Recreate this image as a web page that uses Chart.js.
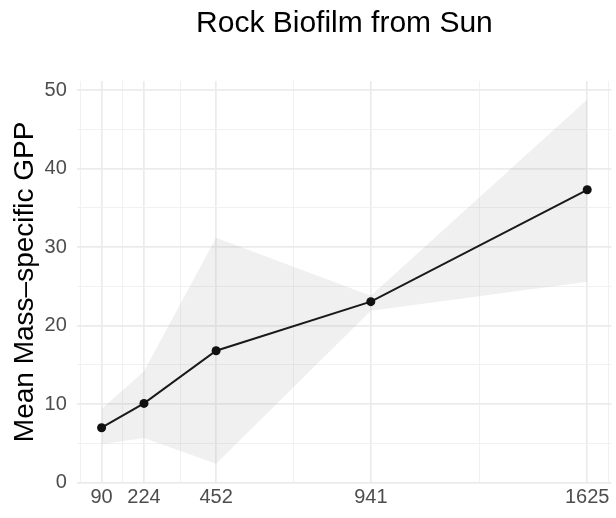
<!DOCTYPE html>
<html>
<head>
<meta charset="utf-8">
<script src="https://cdn.jsdelivr.net/npm/chart.js@4"></script>
<style>
  html, body { margin: 0; padding: 0; background: #fff; }
  #wrap { width: 616px; height: 518px; }
</style>
</head>
<body>
<div id="wrap"><canvas id="chart" width="616" height="518"></canvas></div>
<script>
// ---- data ----
const elevations = [90, 224, 452, 941, 1625];
const meanGpp    = [7.0, 10.1, 16.8, 23.05, 37.3];
const lowerCi    = [4.9, 5.7, 2.4, 21.9, 25.6];
const upperCi    = [9.4, 14.2, 31.2, 23.8, 48.8];

const xBreaks      = [90, 224, 452, 941, 1625];
const xMinorBreaks = [23, 157, 338, 696.5, 1283, 1693];
const yBreaks      = [0, 10, 20, 30, 40, 50];
const yMinorBreaks = [5, 15, 25, 35, 45];

const TITLE = "Rock Biofilm from Sun";
const Y_TITLE = "Mean Mass\u2013specific GPP";

// ---- helpers ----
const pts = (ys) => elevations.map((x, i) => ({ x, y: ys[i] }));
const FONT = "'Liberation Sans', Arial, Helvetica, sans-serif";

const gridOpts = (majors) => ({
  color: (c) => majors.includes(c.tick && c.tick.value) ? "#ebebeb" : "#efefef",
  lineWidth: (c) => majors.includes(c.tick && c.tick.value) ? 1.7 : 0.9,
  drawTicks: false
});

// keep title centred on the panel like ggplot
const panelTitle = {
  id: "panelTitle",
  afterLayout(chart) {
    const tb = chart.titleBlock;
    if (!tb) return;
    tb.left = chart.chartArea.left;
    tb.right = chart.chartArea.right;
  }
};

new Chart(document.getElementById("chart"), {
  type: "line",
  data: {
    datasets: [
      {
        label: "mean",
        data: pts(meanGpp),
        borderColor: "#1a1a1a",
        borderWidth: 2,
        pointRadius: 4.5,
        pointBackgroundColor: "#111",
        pointBorderWidth: 0,
        tension: 0,
        fill: false,
        order: 0
      },
      {
        label: "lower",
        data: pts(lowerCi),
        borderWidth: 0,
        pointRadius: 0,
        fill: false,
        order: 2
      },
      {
        label: "upper",
        data: pts(upperCi),
        borderWidth: 0,
        pointRadius: 0,
        backgroundColor: "rgba(153,153,153,0.15)",
        fill: 1,
        order: 1
      }
    ]
  },
  options: {
    responsive: false,
    animation: false,
    layout: { padding: { left: 0, right: 2.6, top: 0, bottom: 0 } },
    plugins: {
      legend: { display: false },
      tooltip: { enabled: false },
      filler: { propagate: false },
      title: {
        display: true,
        text: TITLE,
        color: "#000",
        font: { family: FONT, size: 30, weight: "normal" },
        padding: { top: 5.3, bottom: 39.7 }
      }
    },
    scales: {
      x: {
        type: "linear",
        min: 13.25,
        max: 1701.75,
        border: { display: false },
        grid: gridOpts(xBreaks),
        afterBuildTicks: (s) => {
          s.ticks = [...xBreaks, ...xMinorBreaks].sort((a, b) => a - b).map(v => ({ value: v }));
        },
        afterFit: (s) => { s.height = 35.3; },
        ticks: {
          autoSkip: false,
          maxRotation: 0,
          padding: 3,
          color: "#4d4d4d",
          font: { family: FONT, size: 20 },
          callback: (v) => xBreaks.includes(v) ? String(v) : ""
        }
      },
      y: {
        min: 0,
        max: 51.15,
        border: { display: false },
        grid: gridOpts(yBreaks),
        afterBuildTicks: (s) => {
          s.ticks = [...yBreaks, ...yMinorBreaks].sort((a, b) => a - b).map(v => ({ value: v }));
        },
        afterFit: (s) => { s.width = 77.3; },
        title: {
          display: true,
          text: Y_TITLE,
          color: "#000",
          font: { family: FONT, size: 28 },
          padding: { top: 8, bottom: 0 }
        },
        ticks: {
          autoSkip: false,
          padding: 10.5,
          color: "#4d4d4d",
          font: { family: FONT, size: 20 },
          callback: (v) => yBreaks.includes(v) ? String(v) : ""
        }
      }
    }
  },
  plugins: [panelTitle]
});
</script>
</body>
</html>
